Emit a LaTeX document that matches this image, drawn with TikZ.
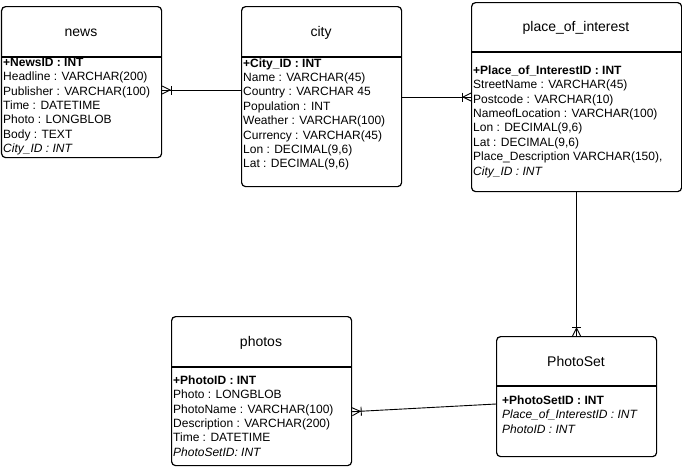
\documentclass[tikz,border=0pt]{standalone}
\usepackage{fontspec}
\setmainfont{Liberation Sans}
\usetikzlibrary{calc}
\tikzset{
  entity/.style={draw, line width=1.2pt, rounded corners=4pt, anchor=north west, inner sep=0pt},
  divider/.style={line width=1.2pt},
  etitle/.style={font=\fontsize{14}{16}\selectfont, anchor=base, inner sep=0pt},
  field/.style={font=\fontsize{12}{14}\selectfont, anchor=base west, inner sep=0pt},
  keyfield/.style={field, font=\fontsize{12}{14}\selectfont\bfseries},
  fkfield/.style={field, font=\fontsize{12}{14}\selectfont\itshape},
  rel/.style={line width=0.9pt},
  crow/.pic={
    \draw[line width=0.9pt] (0pt,-4pt) -- (8pt,0pt) -- (0pt,4pt);
    \draw[line width=0.9pt] (9pt,-4.5pt) -- (9pt,4.5pt);
  }
}
\begin{document}
\begin{tikzpicture}[x=1pt, y=-1pt]
\useasboundingbox (0,0) rectangle (682,467);

% ---------- entity frames ----------
\node[entity, minimum width=160pt, minimum height=151pt] (news) at (1,6) {};
\node[entity, minimum width=160pt, minimum height=180pt] (city) at (241,6) {};
\node[entity, minimum width=210pt, minimum height=189pt] (poi) at (471,2) {};
\node[entity, minimum width=180pt, minimum height=149pt] (photos) at (171,316) {};
\node[entity, minimum width=160pt, minimum height=120pt] (photoset) at (496,336) {};

% ---------- header dividers ----------
\draw[divider] ([yshift=-51pt]news.north west) -- ([yshift=-51pt]news.north east);
\draw[divider] ([yshift=-51pt]city.north west) -- ([yshift=-51pt]city.north east);
\draw[divider] ([yshift=-50pt]poi.north west) -- ([yshift=-50pt]poi.north east);
\draw[divider] ([yshift=-51pt]photos.north west) -- ([yshift=-51pt]photos.north east);
\draw[divider] ([yshift=-50pt]photoset.north west) -- ([yshift=-50pt]photoset.north east);

% ---------- titles ----------
\node[etitle] (newsT) at (81,36.5) {news};
\node[etitle] (cityT) at (321,36.5) {city};
\node[etitle] (poiT) at (576,31) {place\_of\_interest};
\node[etitle] (photosT) at (261,346.5) {photos};
\node[etitle] (photosetT) at (576,366.5) {PhotoSet};

% ---------- news fields ----------
\node[keyfield] (news1) at (3,66.3) {+NewsID : INT};
\node[field] (news2) at (3,80.7) {Headline : VARCHAR(200)};
\node[field] (news3) at (3,95.1) {Publisher : VARCHAR(100)};
\node[field] (news4) at (3,109.5) {Time : DATETIME};
\node[field] (news5) at (3,123.9) {Photo : LONGBLOB};
\node[field] (news6) at (3,138.3) {Body : TEXT};
\node[fkfield] (news7) at (3,152.7) {City\_ID : INT};

% ---------- city fields ----------
\node[keyfield] (city1) at (243,67) {+City\_ID : INT};
\node[field] (city2) at (243,81.4) {Name : VARCHAR(45)};
\node[field] (city3) at (243,95.8) {Country : VARCHAR 45};
\node[field] (city4) at (243,110.2) {Population : INT};
\node[field] (city5) at (243,124.6) {Weather : VARCHAR(100)};
\node[field] (city6) at (243,139) {Currency : VARCHAR(45)};
\node[field] (city7) at (243,153.4) {Lon : DECIMAL(9,6)};
\node[field] (city8) at (243,167.8) {Lat : DECIMAL(9,6)};

% ---------- place_of_interest fields ----------
\node[keyfield] (poi1) at (473,74.3) {+Place\_of\_InterestID : INT};
\node[field] (poi2) at (473,88.7) {StreetName : VARCHAR(45)};
\node[field] (poi3) at (473,103.1) {Postcode : VARCHAR(10)};
\node[field] (poi4) at (473,117.5) {NameofLocation : VARCHAR(100)};
\node[field] (poi5) at (473,131.9) {Lon : DECIMAL(9,6)};
\node[field] (poi6) at (473,146.3) {Lat : DECIMAL(9,6)};
\node[field] (poi7) at (473,160.7) {Place\_Description VARCHAR(150),};
\node[fkfield] (poi8) at (473,175.1) {City\_ID : INT};

% ---------- photos fields ----------
\node[keyfield] (photos1) at (173,384.3) {+PhotoID : INT};
\node[field] (photos2) at (173,398.7) {Photo : LONGBLOB};
\node[field] (photos3) at (173,413.1) {PhotoName : VARCHAR(100)};
\node[field] (photos4) at (173,427.5) {Description : VARCHAR(200)};
\node[field] (photos5) at (173,441.9) {Time : DATETIME};
\node[fkfield] (photos6) at (173,456.3) {PhotoSetID: INT};

% ---------- PhotoSet fields ----------
\node[keyfield] (photoset1) at (502,404.3) {+PhotoSetID : INT};
\node[fkfield] (photoset2) at (502,418.7) {Place\_of\_InterestID : INT};
\node[fkfield] (photoset3) at (502,433.1) {PhotoID : INT};

% ---------- relationships ----------
\coordinate (r1a) at ([yshift=-84pt]news.north east);
\coordinate (r1b) at ([yshift=-84pt]city.north west);
\draw[rel] (r1a) -- (r1b);
\path (r1a) pic {crow};

\coordinate (r2a) at ([yshift=-91pt]city.north east);
\coordinate (r2b) at ([yshift=-95pt]poi.north west);
\draw[rel] (r2a) -- (r2b);
\path (r2b) pic[rotate=180] {crow};

\draw[rel] (poi.south) -- (photoset.north);
\path (photoset.north) pic[rotate=90] {crow};

\coordinate (r4a) at ([yshift=-95.7pt]photos.north east);
\coordinate (r4b) at ([yshift=-68pt]photoset.north west);
\draw[rel] (r4a) -- (r4b);
\path (r4a) pic[rotate=3] {crow};
\end{tikzpicture}
\end{document}
